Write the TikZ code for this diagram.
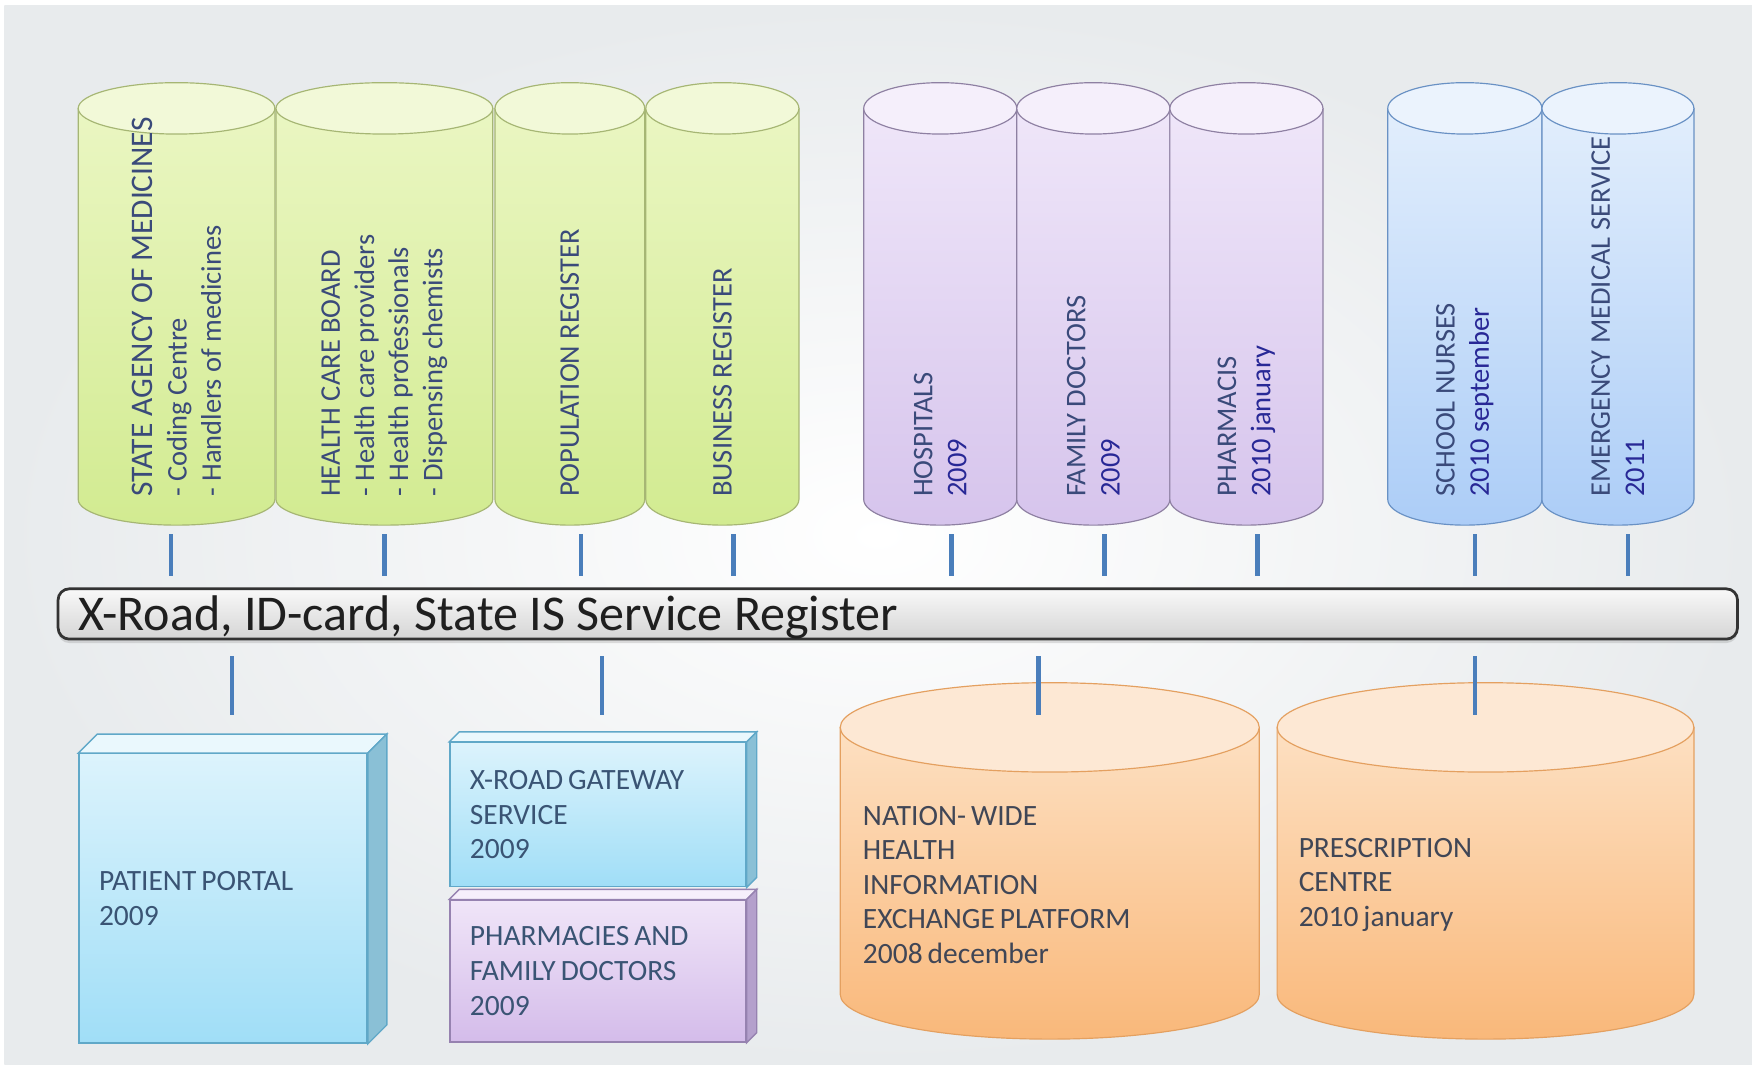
\documentclass[tikz,border=0pt]{standalone}
\usepackage{fontspec}
\setmainfont{Carlito}
\newfontfamily\tightfont{Carlito}[WordSpace=0.75]
\usepackage{xcolor}
\usetikzlibrary{positioning,calc,shadows}

\definecolor{bgedge}{RGB}{232,235,237}
\definecolor{linkblue}{RGB}{74,126,187}
\definecolor{greentop}{RGB}{234,246,194}
\definecolor{greenbot}{RGB}{210,235,145}
\definecolor{greencap}{RGB}{242,249,216}
\definecolor{greenline}{RGB}{166,182,116}
\definecolor{lilactop}{RGB}{239,230,249}
\definecolor{lilacbot}{RGB}{214,196,236}
\definecolor{lilaccap}{RGB}{245,239,251}
\definecolor{lilacline}{RGB}{142,128,162}
\definecolor{skytop}{RGB}{226,238,252}
\definecolor{skybot}{RGB}{172,205,247}
\definecolor{skycap}{RGB}{235,243,253}
\definecolor{skyline}{RGB}{105,145,196}
\definecolor{peachtop}{RGB}{253,224,194}
\definecolor{peachbot}{RGB}{249,184,122}
\definecolor{peachcap}{RGB}{253,232,212}
\definecolor{peachline}{RGB}{228,160,96}
\definecolor{icetop}{RGB}{220,243,252}
\definecolor{icebot}{RGB}{160,222,247}
\definecolor{iceside}{RGB}{138,192,214}
\definecolor{iceline}{RGB}{96,168,200}
\definecolor{mauvetop}{RGB}{240,229,248}
\definecolor{mauvebot}{RGB}{212,188,234}
\definecolor{mauveside}{RGB}{180,160,204}
\definecolor{mauveline}{RGB}{150,130,176}
\definecolor{labelblue}{RGB}{58,74,122}
\definecolor{dateblue}{RGB}{40,40,150}
\definecolor{boxtext}{RGB}{58,84,116}
\definecolor{peachtext}{RGB}{64,70,86}

\newcommand{\labelfont}{\fontsize{14.5}{17.4}\selectfont}
\newcommand{\boxfont}{\tightfont\fontsize{15}{17.6}\selectfont}
% cylinder: name, colour set, x left, x right, y of top end, y of bottom end, end half height
\newcommand{\dbcyl}[7]{%
  \pgfmathsetmacro{\cylrx}{(#4-#3)/2}
  \path[draw=#2line,line width=0.6pt,top color=#2top,bottom color=#2bot]
    (#3,#5) -- (#3,#6) arc[start angle=180,end angle=360,x radius=\cylrx,y radius=#7] -- (#4,#5) -- cycle;
  \path[draw=#2line,line width=0.6pt,fill=#2cap] ({(#3+#4)/2},#5) ellipse[x radius=\cylrx,y radius=#7];
  \coordinate (#1) at ({(#3+#4)/2},{#6-#7});
  \coordinate (#1 top) at ({(#3+#4)/2},{#5+#7});
}
% top and side faces of a box node
\newcommand{\solidbox}[3]{%
  \path[draw=#2line,line width=0.7pt,fill=#2top!60!white] (#1.north west) -- ++(#3,#3)
    -- ([shift={(#3,#3)}]#1.north east) -- (#1.north east) -- cycle;
  \path[draw=#2line,line width=0.7pt,fill=#2side] (#1.north east) -- ++(#3,#3)
    -- ([shift={(#3,#3)}]#1.south east) -- (#1.south east) -- cycle;
}

\begin{document}
\begin{tikzpicture}[x=0.2mm,y=0.2mm]
  \tikzstyle{spine}=[rotate=90,anchor=west,align=left,inner sep=0pt,text=labelblue,font=\labelfont]
  \tikzstyle{slab}=[draw,line width=0.7pt,anchor=north west,inner xsep=0.36cm,inner ysep=0pt,align=flush left,text=boxtext,font=\boxfont]
  \tikzstyle{flat}=[anchor=west,align=left,inner sep=0pt,text=peachtext,font=\boxfont]
  \tikzstyle{link}=[draw=linkblue,line width=2.2pt]
  \tikzstyle{busbar}=[draw=black!80,line width=1.4pt,rounded corners=2mm,top color=gray!5,bottom color=gray!33,
    minimum height=0.9cm,inner xsep=0.36cm,text width=29.34cm,align=flush left,text=black!88,
    font=\fontsize{25.5}{30}\selectfont,text height=16.4pt,text depth=0pt,
    drop shadow={opacity=0.25,shadow xshift=0pt,shadow yshift=-2pt}]

  \useasboundingbox (0,0) rectangle (1568,953);
  \fill[white] (0,0) rectangle (1568,953);
  \shade[inner color=white,outer color=bgedge] (4,0) rectangle (1568,948);

  \dbcyl{sam}{green}{70}{246}{856}{506}{23}
  \dbcyl{hcb}{green}{247}{441}{856}{506}{23}
  \dbcyl{pop}{green}{443}{577}{856}{506}{23}
  \dbcyl{bus}{green}{578}{715}{856}{506}{23}
  \dbcyl{hosp}{lilac}{773}{910}{856}{506}{23}
  \dbcyl{fam}{lilac}{910}{1047}{856}{506}{23}
  \dbcyl{apt}{lilac}{1047}{1184}{856}{506}{23}
  \dbcyl{school}{sky}{1242}{1380}{856}{506}{23}
  \dbcyl{ems}{sky}{1380}{1516}{856}{506}{23}

  \node[spine] (samtext) at ([yshift=5mm]sam) {{\fontsize{16}{17.4}\selectfont STATE AGENCY OF MEDICINES}\\- Coding Centre\\- Handlers of medicines};
  \node[spine] (hcbtext) at ([yshift=5mm]hcb) {HEALTH CARE BOARD\\- Health care providers\\- Health professionals\\- Dispensing chemists};
  \node[spine] (poptext) at ([yshift=5mm]pop) {POPULATION REGISTER};
  \node[spine] (bustext) at ([yshift=5mm]bus) {BUSINESS REGISTER};
  \node[spine] (hosptext) at ([yshift=5mm]hosp) {HOSPITALS\\\textcolor{dateblue}{2009}};
  \node[spine] (famtext) at ([yshift=5mm]fam) {FAMILY DOCTORS\\\textcolor{dateblue}{2009}};
  \node[spine] (apttext) at ([yshift=5mm]apt) {PHARMACIS\\\textcolor{dateblue}{2010 january}};
  \node[spine] (schooltext) at ([yshift=5mm]school) {SCHOOL NURSES\\\textcolor{dateblue}{2010 september}};
  \node[spine] (emstext) at ([yshift=5mm]ems) {EMERGENCY MEDICAL SERVICE\\\textcolor{dateblue}{2011}};

  \node[busbar] (xroad) at (803.5,403.5) {X-Road, ID-card, State IS Service Register};

  \node[slab,draw=iceline,top color=icetop,bottom color=icebot,text width=4.44cm,minimum height=5.18cm] (portal) at (70,279) {PATIENT PORTAL\\2009};
  \solidbox{portal}{ice}{17}
  \node[slab,draw=iceline,top color=icetop,bottom color=icebot,text width=4.58cm,minimum height=2.58cm] (gateway) at (402,289) {X-ROAD GATEWAY\\SERVICE\\2009};
  \solidbox{gateway}{ice}{9}
  \node[slab,draw=mauveline,top color=mauvetop,bottom color=mauvebot,text width=4.58cm,minimum height=2.54cm] (pharmdoc) at (402,148) {PHARMACIES AND\\FAMILY DOCTORS\\2009};
  \solidbox{pharmdoc}{mauve}{9}

  \dbcyl{nhiep}{peach}{752}{1127}{302}{63}{40}
  \dbcyl{presc}{peach}{1143}{1516}{302}{63}{40}
  \node[flat] (nhieptext) at (772,161) {NATION- WIDE\\HEALTH\\INFORMATION\\EXCHANGE PLATFORM\\2008 december};
  \node[flat] (presctext) at (1162,161) {PRESCRIPTION\\CENTRE\\2010 january};

  \foreach \n/\dx in {sam/-5,hcb/0,pop/10,bus/10,hosp/10,fam/10,apt/10,school/9,ems/9}
    \draw[link,shorten <=1.6mm,shorten >=2mm] ([xshift=\dx*0.2mm]\n) -- ([xshift=\dx*0.2mm]\n |- xroad.north);

  \draw[link,shorten <=2.8mm,shorten >=6.8mm] ([xshift=1.6mm]portal.north |- xroad.south) -- ([xshift=1.6mm]portal.north);
  \draw[link,shorten <=2.8mm,shorten >=4.8mm] ([xshift=0.7mm]gateway.north |- xroad.south) -- ([xshift=0.7mm]gateway.north);
  \draw[link,shorten <=2.8mm,shorten >=-5.8mm] ([xshift=-2mm]nhiep top |- xroad.south) -- ([xshift=-2mm]nhiep top);
  \draw[link,shorten <=2.8mm,shorten >=-5.8mm] ([xshift=-1.9mm]presc top |- xroad.south) -- ([xshift=-1.9mm]presc top);
\end{tikzpicture}
\end{document}
